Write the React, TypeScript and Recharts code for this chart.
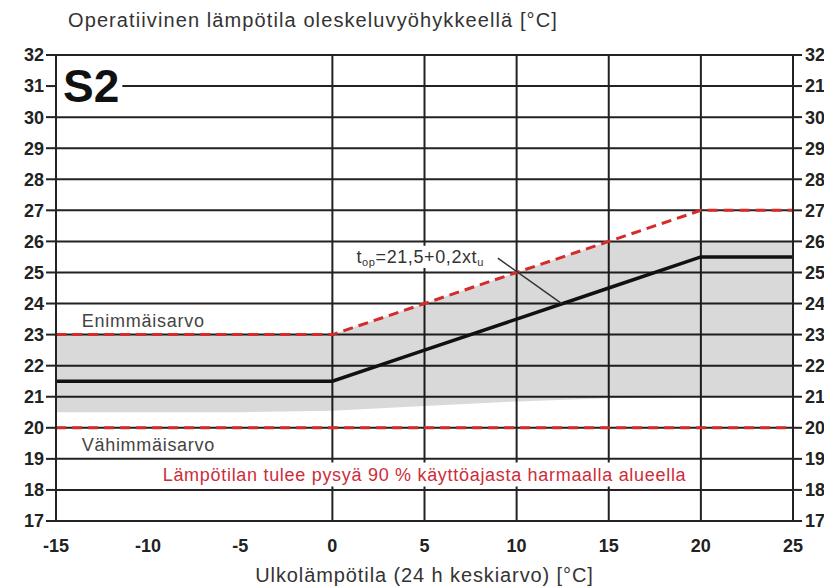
import React from 'react';
import {
    ComposedChart,
    Area,
    Line,
    XAxis,
    YAxis,
    CartesianGrid,
    ReferenceArea,
    ReferenceLine
} from 'recharts';

// outdoor temperature (24 h mean), °C
const outdoorTemps = [-15, -10, -5, 0, 5, 10, 15, 20, 25];
// operative temperature target t_op = 21,5 + 0,2 x t_u
const targetTemps = [21.5, 21.5, 21.5, 21.5, 22.5, 23.5, 24.5, 25.5, 25.5];
const maxTemps = [23, 23, 23, 23, 24, 25, 26, 27, 27];
const minTemps = [20, 20, 20, 20, 20, 20, 20, 20, 20];
// grey zone (90 % of use time)
const grayLow = [20.5, 20.5, 20.5, 20.55, 20.7, 20.85, 20.95, 21, 21];
const grayHigh = [23, 23, 23, 23, 24, 25, 26, 26, 26];

const xTicks = [-15, -10, -5, 0, 5, 10, 15, 20, 25];
const gridX = [-15, 0, 5, 10, 15, 20, 25];
const yTicks = [17, 18, 19, 20, 21, 22, 23, 24, 25, 26, 27, 28, 29, 30, 31, 32];
// the right axis of the original prints "21" at the 31 line
const rightLabels: Record<number, string> = { 31: '21' };

const data = outdoorTemps.map((t, i) => ({
    t,
    target: targetTemps[i],
    max: maxTemps[i],
    min: minTemps[i],
    band: [grayLow[i], grayHigh[i]],
}));

const FONT = '"Liberation Sans", Arial, sans-serif';
const RED = '#d42b2b';
const tickStyle = { fill: '#222', fontSize: 18, fontWeight: 'bold', fontFamily: FONT };

const Formula = ({ viewBox }: any) => {
    const { x, y, height } = viewBox;
    return (
        <text x={x + 2} y={y + height / 2 + 6} fontSize={18} letterSpacing={0.6} fill="#333" fontFamily={FONT}>
            <tspan>t</tspan>
            <tspan fontSize={11} dy={3}>op</tspan>
            <tspan dy={-3}>=21,5+0,2xt</tspan>
            <tspan fontSize={11} dy={3}>u</tspan>
        </text>
    );
};

const App = () => {
    return (
        <div style={{ position: 'absolute', left: 0, top: 0, width: 824, height: 588, overflow: 'hidden', background: '#fff', fontFamily: FONT }}>
            <div style={{ position: 'absolute', left: 68, top: 9, fontSize: 20, letterSpacing: 1.1, color: '#333', whiteSpace: 'nowrap' }}>
                Operatiivinen lämpötila oleskeluvyöhykkeellä [°C]
            </div>
            <ComposedChart width={860} height={588} data={data} margin={{ top: 55, right: 27, bottom: 0, left: 0 }}>
                <CartesianGrid stroke="#222" strokeWidth={2} verticalValues={gridX} horizontalValues={yTicks} />
                <XAxis
                    dataKey="t"
                    type="number"
                    domain={[-15, 25]}
                    ticks={xTicks}
                    height={67}
                    tickLine={false}
                    tickSize={6}
                    tickMargin={12}
                    axisLine={{ stroke: '#222', strokeWidth: 2 }}
                    tick={tickStyle}
                    label={{ value: 'Ulkolämpötila (24 h keskiarvo) [°C]', position: 'insideBottom', offset: 6, fill: '#333', fontSize: 20, letterSpacing: 0.9, fontFamily: FONT }}
                />
                <YAxis
                    domain={[17, 32]}
                    ticks={yTicks}
                    width={56}
                    tickSize={10}
                    tickMargin={2}
                    tickLine={{ stroke: '#222', strokeWidth: 2 }}
                    axisLine={{ stroke: '#222', strokeWidth: 2 }}
                    tick={tickStyle}
                    interval={0}
                />
                <YAxis
                    yAxisId="r"
                    orientation="right"
                    domain={[17, 32]}
                    ticks={yTicks}
                    width={40}
                    tickSize={9}
                    tickMargin={3}
                    tickLine={{ stroke: '#222', strokeWidth: 2 }}
                    axisLine={{ stroke: '#222', strokeWidth: 2 }}
                    tick={{ ...tickStyle, textAnchor: 'start' }}
                    interval={0}
                    tickFormatter={(v: number) => rightLabels[v] ?? String(v)}
                />
                <Area
                    dataKey="band"
                    type="linear"
                    stroke="none"
                    fill="#000"
                    fillOpacity={0.15}
                    isAnimationActive={false}
                />
                <Line yAxisId="r" dataKey="min" type="linear" stroke={RED} strokeWidth={3} strokeDasharray="10 6" dot={false} isAnimationActive={false} />
                <Line dataKey="max" type="linear" stroke={RED} strokeWidth={3} strokeDasharray="10 6" dot={false} isAnimationActive={false} />
                <Line dataKey="target" type="linear" stroke="#111" strokeWidth={3.5} dot={false} isAnimationActive={false} />

                <ReferenceLine segment={[{ x: 8.98, y: 25.46 }, { x: 12.45, y: 24.0 }]} stroke="#333" strokeWidth={1.5} />
                <ReferenceArea x1={1.2} x2={8.5} y1={25.14} y2={25.86} fill="#fff" fillOpacity={1} stroke="none" label={<Formula />} />

                <ReferenceArea
                    x1={-15}
                    x2={-11.4}
                    y1={30.08}
                    y2={31.92}
                    fill="#fff"
                    fillOpacity={1}
                    stroke="none"
                    label={{ value: 'S2', position: 'insideLeft', offset: 7, fill: '#111', fontSize: 46, fontWeight: 'bold', fontFamily: FONT }}
                />
                <ReferenceArea
                    x1={-13.6}
                    x2={-5}
                    y1={23.2}
                    y2={23.72}
                    fill="none"
                    stroke="none"
                    label={{ value: 'Enimmäisarvo', position: 'insideLeft', offset: 0, fill: '#444', fontSize: 18, letterSpacing: 0.75, fontFamily: FONT }}
                />
                <ReferenceArea
                    x1={-13.6}
                    x2={-5}
                    y1={19.2}
                    y2={19.74}
                    fill="none"
                    stroke="none"
                    label={{ value: 'Vähimmäisarvo', position: 'insideLeft', offset: 0, fill: '#444', fontSize: 18, letterSpacing: 0.7, fontFamily: FONT }}
                />
                <ReferenceArea
                    x1={-9.4}
                    x2={19.4}
                    y1={18.11}
                    y2={18.88}
                    fill="#fff"
                    fillOpacity={1}
                    stroke="none"
                    label={{ value: 'Lämpötilan tulee pysyä 90 % käyttöajasta harmaalla alueella', position: 'center', fill: '#cc2d3a', fontSize: 18, letterSpacing: 0.7, fontFamily: FONT }}
                />
            </ComposedChart>
        </div>
    );
};

export default App;
